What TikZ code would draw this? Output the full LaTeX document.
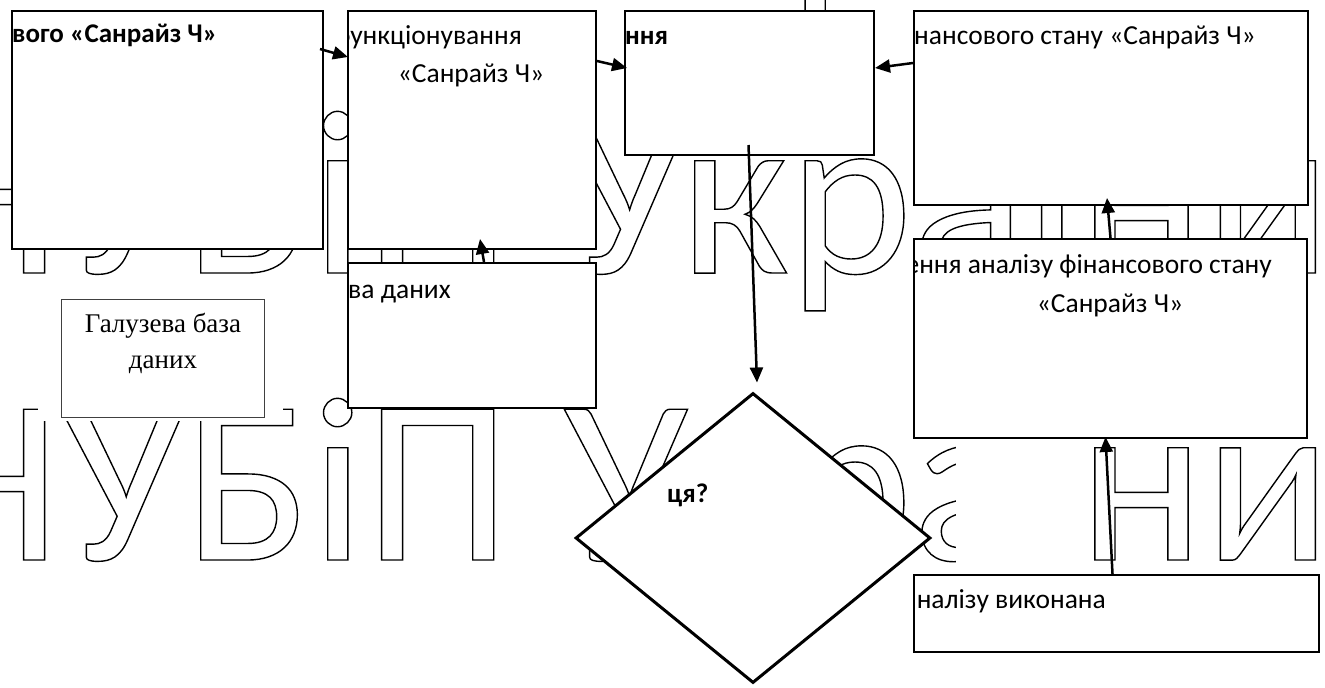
\documentclass[tikz,border=0pt]{standalone}
\usepackage{fontspec}
\setmainfont{Carlito}
\newfontfamily\serifcyr{Liberation Serif}
\usetikzlibrary{arrows.meta,shapes.geometric}
\newcommand\outlinetext[1]{\special{pdf:literal direct 1 Tr 1.4 w}#1\special{pdf:literal direct 0 Tr}}
\begin{document}
\begin{tikzpicture}[x=1bp,y=-1bp,
  wm/.style={anchor=base west, inner sep=0, font=\fontsize{235bp}{235bp}\selectfont},
  box/.style={draw, line width=2bp, fill=white, anchor=north west, inner sep=0},
  thinbox/.style={draw=black!75, line width=1.1bp, fill=white, anchor=north west, inner sep=0},
  mask/.style={fill=white, draw=none, anchor=north west, inner sep=0},
  reg/.style={inner sep=0, font=\fontsize{27.5bp}{32bp}\selectfont},
  bld/.style={inner sep=0, font=\fontsize{27bp}{31bp}\selectfont\bfseries},
  arr/.style={line width=2.5bp, -{Triangle[length=15bp,width=13bp]}},
  dia/.style={draw, diamond, line width=3bp, fill=white, inner sep=0}]
\useasboundingbox (0,0) rectangle (1325,687);
% watermark
\node[wm] (wm0) at (-86,-14) {\outlinetext{НУБіП України}};
\node[wm] (wm1) at (-86,273) {\outlinetext{НУБіП України}};
\node[wm] (wm2) at (-86,560) {\outlinetext{НУБіП України}};
% masks
\node[mask, minimum width=245bp, minimum height=122bp] (mF) at (38,299) {};
\node[mask, minimum width=120bp, minimum height=130bp] (mR) at (956,441) {};
% boxes
\node[box, minimum width=311bp, minimum height=238bp] (A) at (11,10) {};
\node[box, minimum width=248bp, minimum height=238bp] (B) at (347,10) {};
\node[box, minimum width=249bp, minimum height=144bp] (C) at (624,10) {};
\node[box, minimum width=394bp, minimum height=194bp] (D) at (913,10) {};
\node[box, minimum width=248bp, minimum height=145bp] (E) at (347,262) {};
\node[thinbox, minimum width=203bp, minimum height=118bp] (F) at (61,299) {};
\node[box, minimum width=393bp, minimum height=199bp] (G) at (913,238) {};
\node[box, minimum width=405bp, minimum height=77bp] (H) at (913,574) {};
\node[dia, minimum width=355bp, minimum height=290bp] (Q) at (753,538) {};
% texts
\begin{scope}
\clip (A.north west) rectangle (A.south east);
\node[bld, anchor=base west] (tA) at (12,43) {вого «Санрайз Ч»};
\end{scope}
\begin{scope}
\clip (B.north west) rectangle (B.south east);
\node[reg, anchor=base east] (tB1) at (522,45) {функціонування};
\end{scope}
\node[reg, anchor=base] (tB2) at (471,83) {«Санрайз Ч»};
\node[bld, anchor=base west] (tC) at (625,45) {ння};
\node[reg, anchor=base west] (tD) at (914,45) {нансового стану «Санрайз Ч»};
\node[reg, anchor=base west] (tE) at (348,298) {ва даних};
\node[inner sep=0, anchor=base, font=\serifcyr\fontsize{27bp}{36bp}\selectfont, align=center] (tF) at (163,368) {Галузева база\\даних};
\begin{scope}
\clip (G.north west) rectangle (G.south east);
\node[reg, anchor=base east] (tG1) at (1272,273) {проведення аналізу фінансового стану};
\end{scope}
\node[reg, anchor=base] (tG2) at (1110,312) {«Санрайз Ч»};
\begin{scope}
\clip (H.north west) rectangle (H.south east);
\node[reg, anchor=base east] (tH) at (1106,608) {аналізу виконана};
\end{scope}
\node[bld, anchor=base west] (tQ) at (667,502) {ця?};
% arrows
\draw[arr] ([shift={(-4,39)}]A.north east) -- ([shift={(1,47)}]B.north west);
\draw[arr] ([shift={(0,51)}]B.north east) -- ([shift={(3,58)}]C.north west);
\draw[arr] ([shift={(0,53)}]D.north west) -- ([shift={(0,58)}]C.north east);
\draw[arr] ([shift={(-1,-11)}]C.south) -- ([shift={(4,-9)}]Q.north);
\draw[arr] ([shift={(12,0)}]E.north) -- ([shift={(8,-11)}]B.south);
\draw[arr] ([shift={(0,0)}]G.north) -- ([shift={(-4,-8)}]D.south);
\draw[arr] ([shift={(-4,0)}]H.north) -- ([shift={(-5,-2)}]G.south);
\end{tikzpicture}
\end{document}
